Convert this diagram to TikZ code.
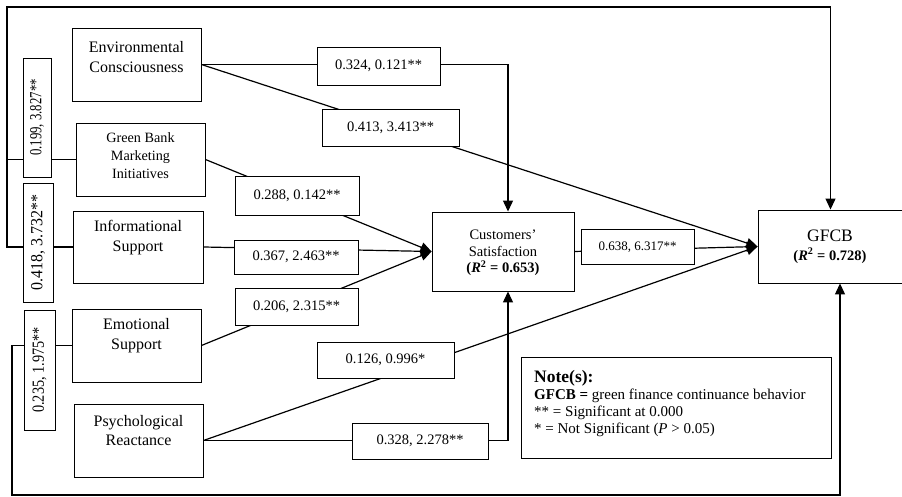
\documentclass[tikz,border=0pt]{standalone}
\usepackage{fontspec}
\setmainfont{Liberation Serif}
\usetikzlibrary{arrows.meta}
\newcommand\fsz[2]{\fontsize{#1}{#2}\selectfont}
\tikzset{
  box/.style={draw, line width=0.9pt, inner sep=0pt},
  txt/.style={inner sep=0pt, align=center},
  lbl/.style={draw, fill=white, line width=0.8pt, inner sep=0pt, font=\fsz{14.5}{17}},
  rlbl/.style={draw, fill=white, line width=0.8pt, inner sep=0pt, rotate=90, font=\fsz{17}{20}},
  conn/.style={line width=1.2pt},
  arr/.style={conn, -{Triangle[length=11pt,width=10pt]}}
}
\begin{document}
\begin{tikzpicture}[x=1pt,y=-1pt]
\useasboundingbox (0,0) rectangle (902,497);
% main boxes
\node[box, minimum width=129pt, minimum height=73pt] (ec) at (136.5,64.5) {};
\node[box, minimum width=129pt, minimum height=73pt] (gb) at (140.5,159.5) {};
\node[box, minimum width=130pt, minimum height=72pt] (info) at (138,247) {};
\node[box, minimum width=129pt, minimum height=73pt] (emo) at (136.5,345.5) {};
\node[box, minimum width=129pt, minimum height=73pt] (psy) at (138.5,440.5) {};
\node[box, minimum width=142pt, minimum height=79pt] (cs) at (503,251.5) {};
\node[box, minimum width=145pt, minimum height=73pt] (gfcb) at (830.5,246.5) {};
\node[box, minimum width=310pt, minimum height=101pt] (note) at (676,407.5) {};
% texts
\node[txt, font=\fsz{16}{20}] (ect) at (136.5,57.5) {Environmental\\Consciousness};
\node[txt, font=\fsz{14.2}{18}] (gbt) at (140.5,156) {Green Bank\\Marketing\\Initiatives};
\node[txt, font=\fsz{16}{20}] (infot) at (138,238) {Informational\\Support};
\node[txt, font=\fsz{16}{20}] (emot) at (136.5,336) {Emotional\\Support};
\node[txt, font=\fsz{16}{19}] (psyt) at (138.5,431) {Psychological\\Reactance};
\node[txt, font=\fsz{14.5}{16.5}] (cst) at (503,253) {Customers’\\Satisfaction\\\textbf{(\textit{R}\textsuperscript{2} = 0.653)}};
\node[anchor=base, inner sep=0pt, font=\fsz{17.5}{20}] (gfcbt1) at (830,241) {GFCB};
\node[anchor=base, inner sep=0pt, font=\fsz{14.5}{17}\bfseries] (gfcbt2) at (830,260) {(\textit{R}\textsuperscript{2} = 0.728)};
\node[anchor=base west, inner sep=0pt, font=\fsz{17.5}{20}\bfseries] (n1) at (534,382) {Note(s):};
\node[anchor=base west, inner sep=0pt, font=\fsz{15}{17}] (n2) at (534,399) {\textbf{GFCB =} green finance continuance behavior};
\node[anchor=base west, inner sep=0pt, font=\fsz{15}{17}] (n3) at (534,416) {** = Significant at 0.000};
\node[anchor=base west, inner sep=0pt, font=\fsz{15}{17}] (n4) at (534,433) {* = Not Significant (\textit{P} > 0.05)};
% coordinates
\coordinate (TL) at (7,7);
\coordinate (BL) at (12,495);
% connectors
\draw[arr] (ec.east) -| ([xshift=5pt]cs.north);
\draw[arr] (ec.east) -- (gfcb.west);
\draw[arr] (gb.east) -- (cs.west);
\draw[arr] (info.east) -- (cs.west);
\draw[arr] (emo.east) -- (cs.west);
\draw[arr] (psy.east) -| ([xshift=5pt]cs.south);
\draw[arr] (psy.east) -- (gfcb.west);
\draw[arr] (cs.east) -- (gfcb.west);
\draw[arr] (gb.west) -- (gb.west -| TL) -- (TL) -| (gfcb.north);
\draw[conn] (info.west) -- (info.west -| TL) -- (gb.west -| TL);
\draw[arr] (emo.west) -- (emo.west -| BL) -- (BL) -| ([xshift=9.5pt]gfcb.south);
% labels
\node[lbl, minimum width=123pt, minimum height=38pt] (c1) at (378.5,66) {0.324, 0.121**};
\node[lbl, minimum width=137pt, minimum height=37pt] (c2) at (390.5,127.5) {0.413, 3.413**};
\node[lbl, minimum width=124pt, minimum height=39pt] (c3) at (297,195.5) {0.288, 0.142**};
\node[lbl, minimum width=124pt, minimum height=34pt] (c4) at (296,257) {0.367, 2.463**};
\node[lbl, minimum width=123pt, minimum height=37pt] (c5) at (296.5,306.5) {0.206, 2.315**};
\node[lbl, minimum width=137pt, minimum height=36pt] (c6) at (385.5,360) {0.126, 0.996*};
\node[lbl, minimum width=136pt, minimum height=36pt] (c7) at (420,441) {0.328, 2.278**};
\node[lbl, minimum width=113pt, minimum height=35pt, font=\fsz{13}{15}] (c8) at (637.5,247) {0.638, 6.317**};
\node[rlbl, minimum width=119pt, minimum height=28pt] (r1) at (37,117.5) {\scalebox{0.75}[1]{0.199, 3.827**}};
\node[rlbl, minimum width=119pt, minimum height=30pt] (r2) at (38,242.5) {\scalebox{0.94}[1]{0.418, 3.732**}};
\node[rlbl, minimum width=120pt, minimum height=31pt] (r3) at (39.5,370) {\scalebox{0.84}[1]{0.235, 1.975**}};
\end{tikzpicture}
\end{document}
